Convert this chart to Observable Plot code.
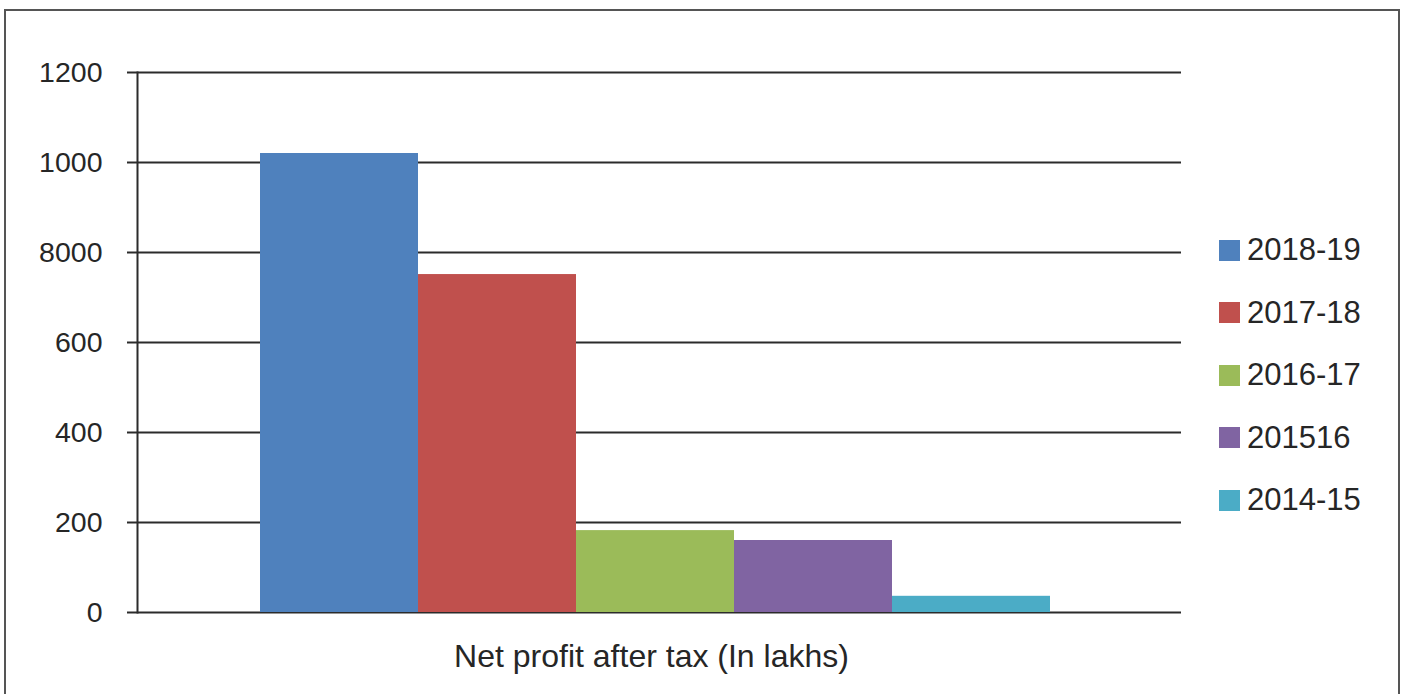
<!DOCTYPE html>
<html>
<head>
<meta charset="utf-8">
<script src="https://cdn.jsdelivr.net/npm/d3@7"></script>
<script src="https://cdn.jsdelivr.net/npm/@observablehq/plot@0.6"></script>
<style>
  html, body { margin: 0; padding: 0; background: #fff; }
  body { width: 1408px; height: 694px; position: relative; overflow: hidden; font-family: "Liberation Sans", Arial, sans-serif; }
  #border { position: absolute; left: 4px; top: 9px; width: 1396px; height: 700px; border: 2px solid #555; box-sizing: border-box; }
  #chart { position: absolute; left: 0; top: 0; }
  #legend { position: absolute; left: 1219px; top: 219px; }
  .item { display: flex; align-items: center; height: 62.5px; font-size: 31px; color: #262626; }
  .sw { width: 21px; height: 21px; margin-right: 7px; }
</style>
</head>
<body>
<div id="border"></div>
<div id="chart"></div>
<div id="legend"></div>
<script>
const category = "Net profit after tax (In lakhs)";
const years = ["2018-19", "2017-18", "2016-17", "201516", "2014-15"];
const values = [1020, 751, 182, 160, 36];
const colors = ["#4F81BD", "#C0504D", "#9BBB59", "#8064A2", "#4BACC6"];
const yTicks = [0, 200, 400, 600, 800, 1000, 1200];
const yTickLabels = ["0", "200", "400", "600", "8000", "1000", "1200"];

const data = years.map((y, i) => ({category, year: y, value: values[i]}));

const chart = Plot.plot({
  width: 1408,
  height: 694,
  marginLeft: 137,
  marginRight: 227,
  marginTop: 72,
  marginBottom: 82,
  style: {fontFamily: "Liberation Sans, Arial, sans-serif", color: "#262626", background: "transparent"},
  fx: {domain: [category], padding: 0, label: null},
  x: {domain: years, paddingInner: 0, paddingOuter: 0.7915, align: 0.486, axis: null},
  y: {domain: [0, 1200], axis: null},
  color: {domain: years, range: colors},
  marks: [
    Plot.gridY(yTicks, {stroke: "#2b2b2b", strokeOpacity: 1, strokeWidth: 2}),
    Plot.frame({anchor: "left", stroke: "#2b2b2b", strokeWidth: 2}),
    Plot.barY(data, {fx: "category", x: "year", y: "value", fill: "year"}),
    Plot.axisY(yTicks, {anchor: "left", tickSize: 10, tickPadding: 25, stroke: "#2b2b2b", strokeWidth: 2, fontSize: 28.5, fill: "#262626", tickFormat: (d) => yTickLabels[yTicks.indexOf(d)], label: null}),
    Plot.axisFx({anchor: "bottom", tickSize: 0, tickPadding: 32, fontSize: 32, dx: -8, fill: "#262626", label: null})
  ]
});
document.getElementById("chart").appendChild(chart);

const legend = document.getElementById("legend");
years.forEach((y, i) => {
  const item = document.createElement("div");
  item.className = "item";
  const sw = document.createElement("div");
  sw.className = "sw";
  sw.style.background = colors[i];
  const t = document.createElement("span");
  t.textContent = y;
  item.appendChild(sw);
  item.appendChild(t);
  legend.appendChild(item);
});
</script>
</body>
</html>
